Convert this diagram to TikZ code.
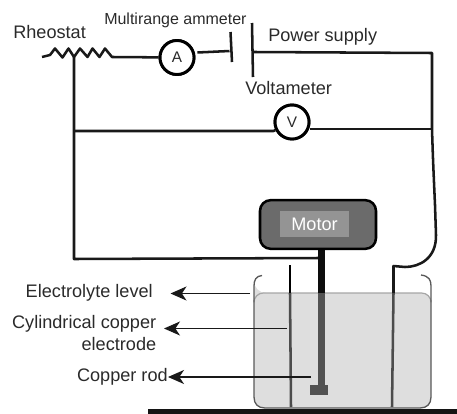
\documentclass[tikz,border=0pt]{standalone}
\usepackage{fontspec}
\setmainfont{Liberation Sans}
\usetikzlibrary{arrows.meta}
\definecolor{txt}{HTML}{2A2A2A}
\tikzset{
  x=0.75pt,y=-0.75pt,
  wire/.style={line width=1.9pt,black!90,line join=round},
  meter/.style={circle,draw=black,line width=2.2pt,fill=white,inner sep=0pt,minimum size=25.5pt,font=\fontsize{11.5pt}{13pt}\selectfont,text=txt},
  lbl/.style={inner sep=0pt,text=txt,font=\fontsize{13.6pt}{16pt}\selectfont},
  pointer/.style={line width=0.9pt,draw=black!90,-{Stealth[length=12pt,width=10.5pt,inset=3.5pt]}},
}
\begin{document}
\begin{tikzpicture}
\useasboundingbox (0,0) rectangle (457,414);
% coordinates
\coordinate (rs) at (42,57);
\coordinate (rtap) at (74,57);
\coordinate (re) at (112,57);
\coordinate (ta) at (74,131);
\coordinate (tm) at (74,259);
\coordinate (rodw) at (320,258);
\coordinate (tr) at (432,53);
\coordinate (vr) at (432,129);
\coordinate (cb) at (435,205);
\node[meter] (am) at (177,57.5) {A};
\node[meter] (vm) at (292,122) {V};
% battery
\coordinate (p1t) at (230.5,32); \coordinate (p1b) at (232,62);
\coordinate (p2t) at (252,23); \coordinate (p2b) at (253,77);
\coordinate (p1m) at (229.5,51); \coordinate (p2m) at (254,52);
% liquid
\fill[fill=black!13] (254,293) [rounded corners=7pt] -- (431,293) -- (431,408) [rounded corners=9pt] -- (254,408) -- (254,293) -- cycle;
\draw[line width=0.9pt,draw=black!35,rounded corners=7pt] (254,300) -- (254,293) -- (431,293) -- (431,300);
% beaker
\draw[line width=1pt,draw=black!65] (262,275.5) .. controls (256,276) and (254,280) .. (254,286) -- (254,397) .. controls (254,404) and (258,408) .. (265,408) -- (420,408) .. controls (427,408) and (431,404) .. (431,397) -- (431,286) .. controls (431,280) and (429,276) .. (421,275);
% base
\fill[black!92] (148,409) rectangle (457,414);
% wires
\draw[wire] (rs) -- (50,55) -- (55,48.5) -- (62.5,57.5) -- (68.5,48.5) -- (74,57) -- (80,48.5) -- (87.5,57) -- (92.5,48.5) -- (99.5,57) -- (105,48.5) -- (re) -- (am);
\draw[wire] (am.east) ++(2,-5) -- (p1m);
\draw[wire] (p1t) -- (p1b);
\draw[wire] (p2t) -- (p2b);
\draw[wire] (p2m) -- (tr) -- (vr) .. controls (433,160) .. (cb) -- (436,235) .. controls (436.5,258) and (420,267) .. (405,267) -- (393.5,266) -- (393.5,293);
\draw[wire] (rtap) -- (ta) -- (tm) -- (rodw);
\draw[wire] (ta) -- (vm.west|-ta) -- (vm);
\draw[wire] (vm.east|-vr) -- (vr);
\node[meter] at (vm) {V};
\node[meter] at (am) {A};
% electrodes
\draw[line width=1.9pt,black] (290,265) -- (290,293);
\draw[line width=1.9pt,black!70] (290,293) -- (291,407);
\draw[line width=1.9pt,black!70] (393.5,293) -- (392,407);
% rod
\fill[black!95] (318,249) rectangle (325,293);
\fill[black!68] (318,293) rectangle (325,386);
\node[draw=none,fill=black!68,minimum width=13.5pt,minimum height=7.5pt,inner sep=0pt] (blk) at (319,389.5) {};
% motor
\node[draw=black,line width=1.9pt,fill=black!58,rounded corners=8pt,minimum width=87pt,minimum height=36.5pt,inner sep=0pt] (motor) at (318,224.5) {};
\node[fill=black!42,text=white,minimum width=52pt,minimum height=19.5pt,inner sep=0pt,font=\fontsize{13.6pt}{16pt}\selectfont] (mtxt) at (314.5,224) {Motor};
% labels
\node[lbl,anchor=west] (l1) at (13,32) {Rheostat};
\node[lbl,anchor=west,font=\fontsize{12pt}{14pt}\selectfont] (l2) at (104,20) {Multirange ammeter};
\node[lbl,anchor=west] (l3) at (268,37) {Power supply};
\node[lbl,anchor=west] (l4) at (245,88) {Voltameter};
\node[lbl,anchor=east] (l5) at (153,293) {Electrolyte level};
\node[lbl,anchor=east,align=right,font=\fontsize{13.6pt}{16.5pt}\selectfont] (l6) at (156.5,333) {Cylindrical copper\\electrode};
\node[lbl,anchor=east] (l7) at (168,377) {Copper rod};
% pointers
\coordinate (a1) at (250,293.5); \coordinate (a2) at (287,328.5); \coordinate (a3) at (311,377);
\draw[pointer] (a1) -- (170.5,293.5);
\draw[pointer] (a2) -- (164,328.5);
\draw[pointer] (a3) -- (l7.east);
\end{tikzpicture}
\end{document}
